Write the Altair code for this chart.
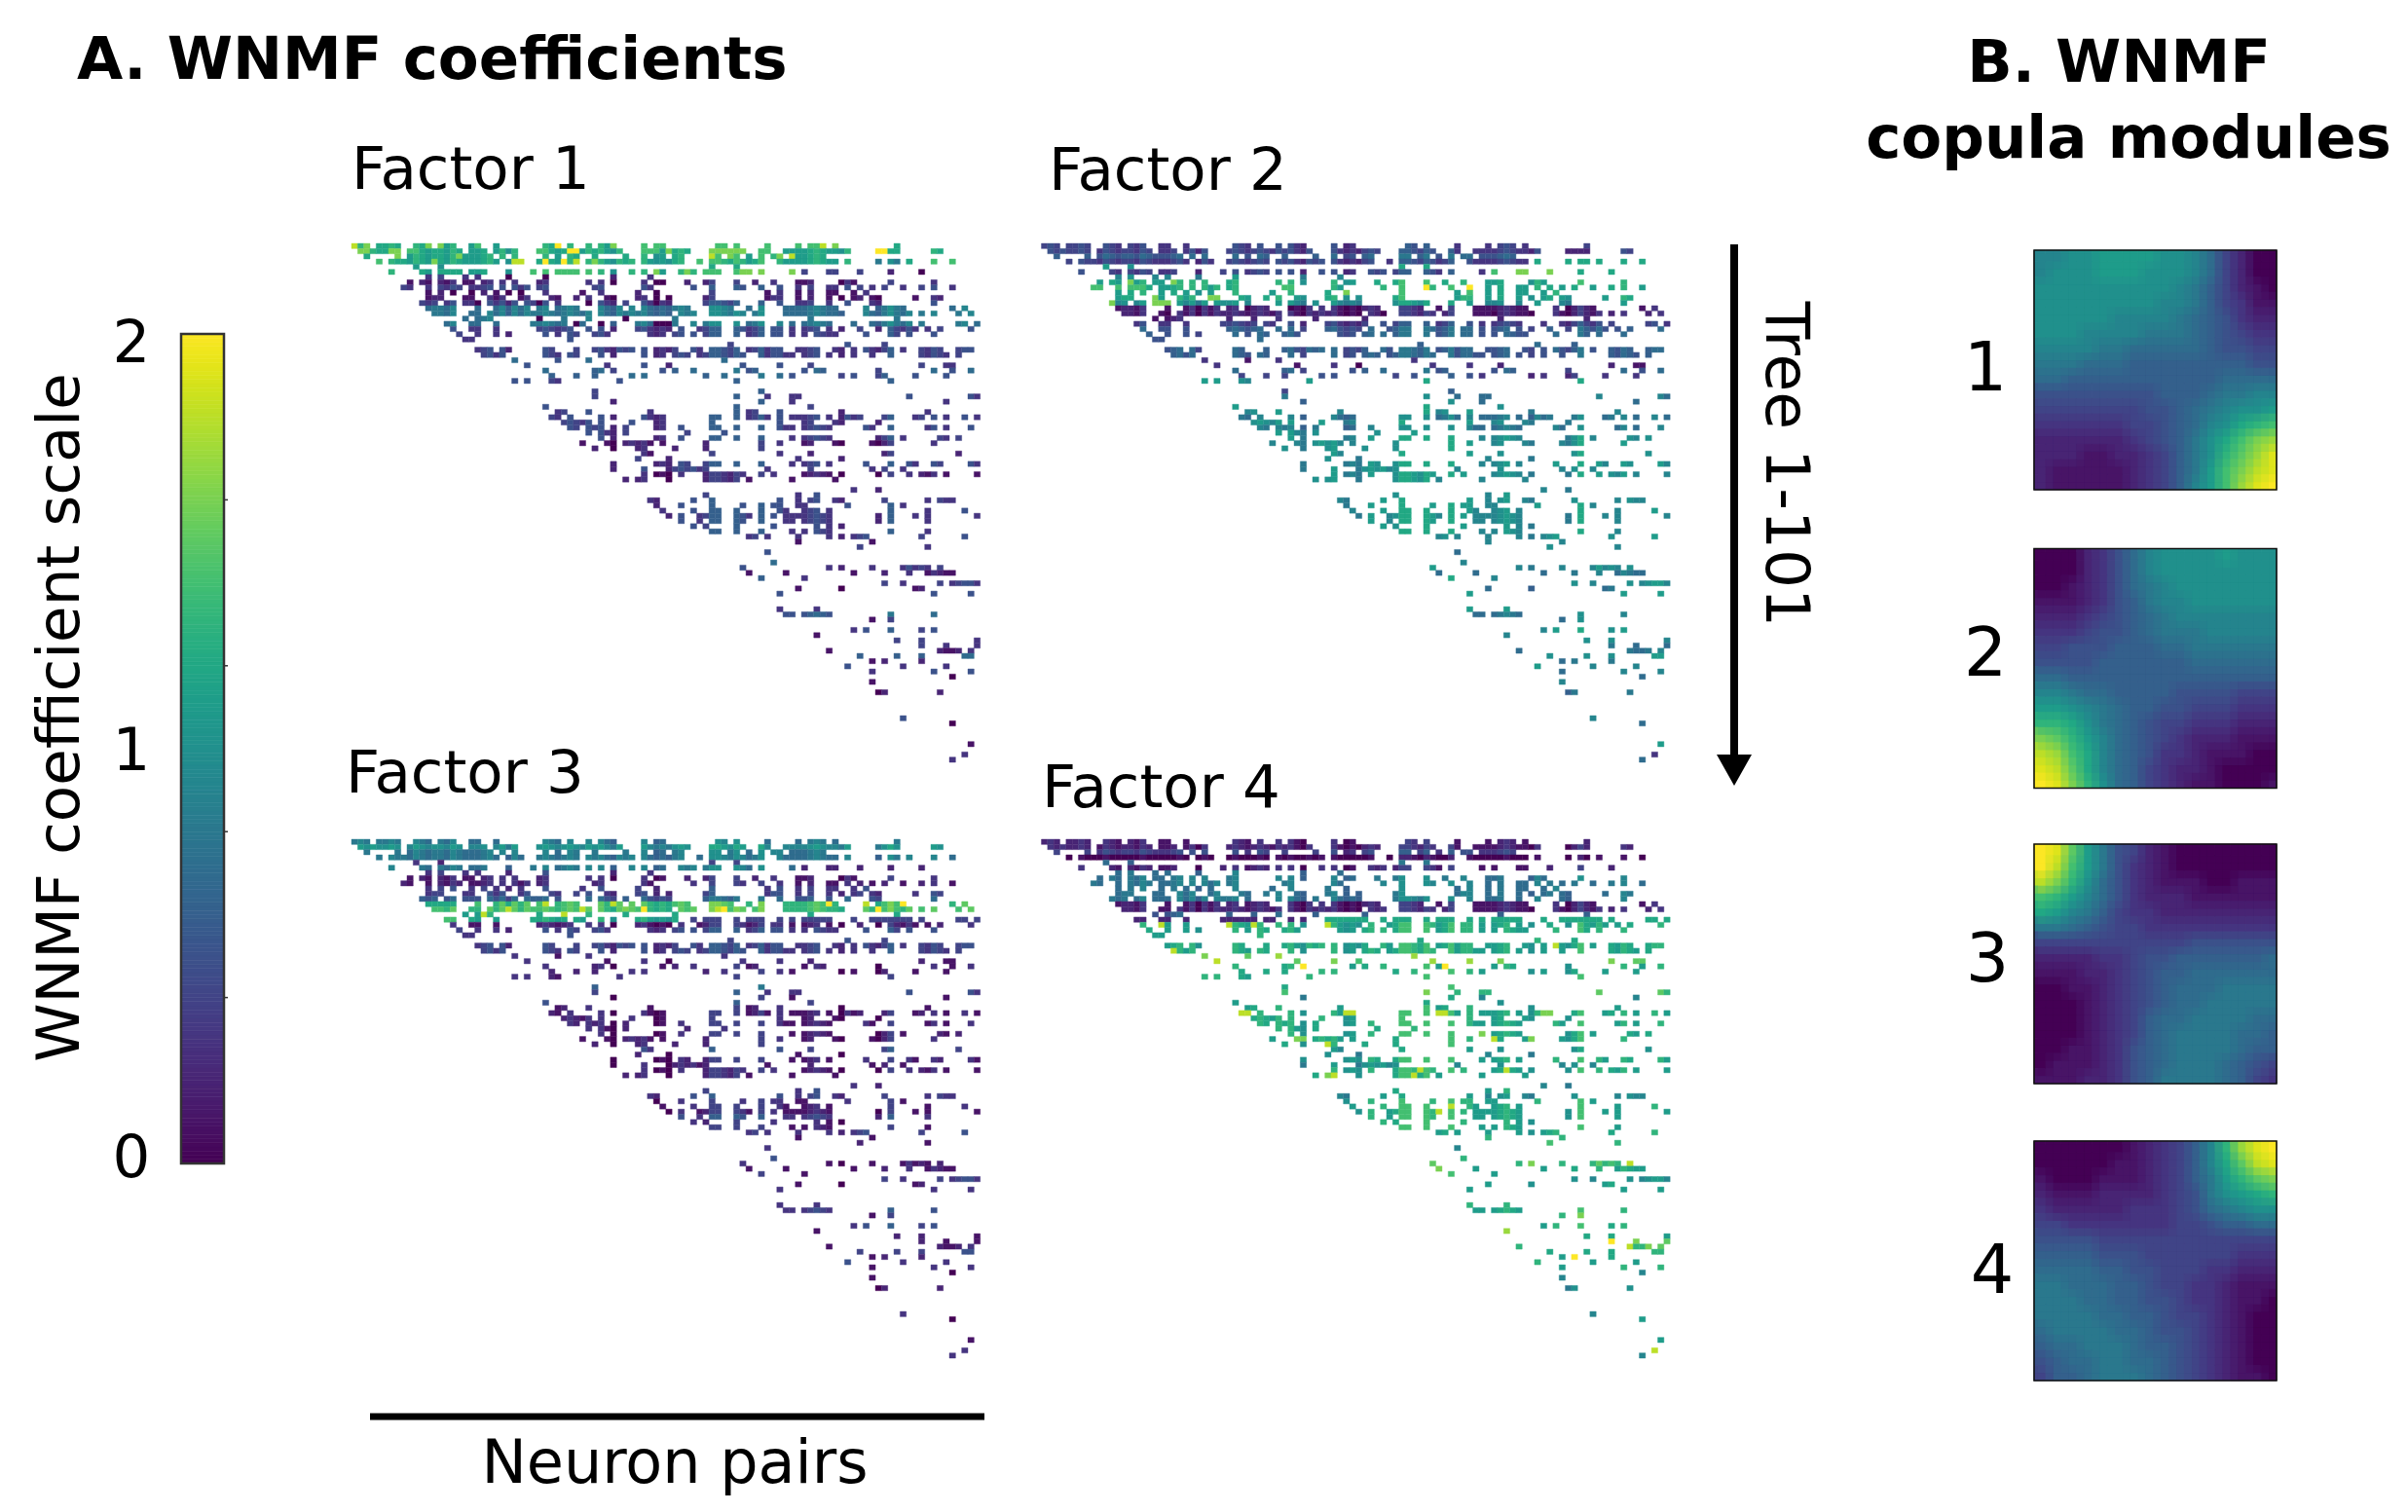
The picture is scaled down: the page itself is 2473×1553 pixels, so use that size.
import altair as alt
import pandas as pd

FONT = "DejaVu Sans"
COLS = 103
ROWS = 100

# occupied neuron-pair columns for each tree row
PATTERN = [
"0-2 4-7 10-12 14-16 19-20 23 31-33 35 38 40-42 47 49-50 59-60 62 67 72 74-76 78 88",
"1-7 9-17 19-21 23-26 30-43 47-54 58-63 66-67 70-80 85-88 94-95",
"2 7 9-22 24 26 31 33 35-36 39 44 47 49-50 52-53 58-59 61-62 64 66 68-69 71-76",
"4 6-23 25-27 30-36 38-45 47-53 56 58-66 69-78 80 85 87-88 90 94 97",
"10 14 58 62",
"6 11-12 14-17 19-21 25 29 31 33-36 38 40 42 45 47 49-50 53-55 57-59 62-64 66 71 73 77-78 82 87 92",
"12 14 18 20 25 31 42 48",
"9 11-12 14-16 18-19 21-22 24 26 30-31 38 40 42 47 49-50 54 57-58 62 65 68 72-74 79-81 87 94",
"8-9 12 14-17 19-22 24 26-28 30-31 39-40 47-48 55 58 62-63 66 69 72 74 77-78 80 82 84 86 89 92 94 97",
"12 14 16 19 21 23 25 27 31 37 40 46 49 58 67 69 72 74 77-78 81 83",
"12-14 18-19 22-24 27-28 32-33 36 38 41-42 46-47 49 51 57-58 67-69 72 74 77 79 81-82 84-85 91 94-95",
"11-13 15-16 18-20 22-26 28-31 33 38 40-42 44 47-51 57-62 66 69 72-74 77 80 84-85 94",
"12-16 20 23-28 30-31 33-36 40-43 45 47-54 58-61 64 66 70-78 83 85-89 97 99",
"13-16 19-20 22-38 40-51 53-55 58-63 65-66 70-79 83-90 92 94 98 100",
"18 20-22 30 34 38 44 52 74 88",
"15-16 19-20 23 29-34 36-37 40 42 46-52 55 57-59 62 64-66 69 71 73-77 81 84-90 92 98-99 101",
"16 19-20 23 30-35 38 40 42 46-51 53 56-59 62-66 68-69 71 73-75 77 79 82 85 87-91 93 95 100",
"17 20 23 25 31 33 35-36 39-41 48-50 52-53 55 57-59 62 64-66 68-69 71 73 75-78 83 87-88 90 94",
"18-19 35",
"61 80 86",
"20-22 24-25 31-32 36 39-45 47 49-52 55-56 58-62 64-69 72-75 78-79 81 83-87 89 92-95 98-100",
"21-24 31-33 35-36 40 42 47 49-50 52-54 56-63 66-71 73-75 77 79 81 84 87 92-96 98",
"26 33 38 60",
"28 41 47 51 63 69 74 92 96-97",
"31 39-40 42 50 52 55 62 64-65 73 75-76 85 94 97 100",
"32 36 39 45 47 57 60 66 69 71 79 81 85-86 91 96",
"26 28 32-33 43 62 87",
"",
"39 66",
"39 62 67 71-72 90 100-101",
"42 66 71 96",
"31 62 74",
"33-34 38 48 62 64-65 69 79 93",
"32-33 35 40 42 47-50 58-59 62 64-67 69 71-75 77 79-82 86-87 91-92 94 96 99 101",
"34-38 40 45 49-50 58 69 73-74 78-79 85",
"35-36 38-40 42 44 49-50 53 58-59 62 66 69-71 73-77 83-84 87 93-94 96 100",
"38 40-42 44 54 60",
"40 42 49-50 53 58-59 62 66 71 73-77 85-87 89 95-96 98",
"37 41-42 44-48 50 57 66 69 73-74 78-79 84-87 94",
"39 42 46-47 52 57 66",
"47-48 58 69 74 86-87 98",
"46 51 72 79",
"42 49-51 53-54 57-59 62 66 71 73-75 77 83 87 90-91 94-95 100-101",
"42 47 51-57 67 74 84 86 89",
"47 49-51 53 57-63 66 68 73-77 79 85 87 90 92-94 96 101",
"44 46-47 51 57-62 64 71 78",
"",
"81 85",
"57 72 75",
"48-49 55 58 69 72 74-75 78-79 86 93 95-97",
"49 53 58 63 66 68-69 72-73 80 87 89",
"50 55 58-59 62 66 69-70 73-75 77 87 93 99",
"51 53 56-59 62-64 66 68 70-77 85 87 91 93 101",
"53 56 58-59 62-63 66 70-71 73-77 85 87 93",
"55 57 62 68 75 77 79",
"58-59 62 66 71 73 75-77 87 93",
"64-65 67 72 77 79 81-83 92 99",
"72 84",
"82 93",
"67",
"",
"68",
"63 77 79 84 89-93 95",
"64 70 81 86 90 93-95 96-97",
"66 73",
"86 89 95 97-101",
"72 79 91-92",
"69 94 100",
"",
"",
"69 75",
"70-71 73-77 87 94",
"84 87",
"",
"81 83 87 92 94",
"75",
"88 92 101",
"92 96 101",
"77 95-98 100",
"82 88 92 99-100",
"84 86 92",
"80 89 96",
"84 94 100",
"97",
"84",
"",
"85-86 95",
"", "", "", "",
"89",
"97",
"", "", "",
"100",
"",
"99",
"97",
]

# typical coefficient of each tree row in each factor, one digit per row (digit x 0.2)
LEVELS = {
"Factor 1": "6666562121 1244442222 2232332222 2222222211 1222112222 2222222123 2321221222 1312202213 1220121222 2302220212",
"Factor 2": "2232525666 6511123333 3311325424 4554545555 5555555555 5555555554 5454554545 5445545445 4544554454 5544545414",
"Factor 3": "4544142112 2377661222 2211111232 1211111111 2111112222 1112112112 2211121122 1212201112 1210121222 2202220212",
"Factor 4": "1120314444 4411326666 6688666667 5566666666 5565666565 6666666775 6676656566 6676686876 6665565666 5566665695",
}

# how much each neuron-pair column sits above or below its row, in tenths
COLUMN_SHIFT = [
0,1,0,1,0,0,1,0,0,-1,
1,0,-1,0,0,-1,1,0,-1,-1,
-1,0,1,-1,1,-2,1,-1,1,0,
0,1,0,-1,0,1,0,-1,1,0,
1,-1,-2,1,0,1,0,1,-1,-2,
-1,-2,0,1,0,1,-1,0,2,2,
1,0,2,1,-1,0,2,-1,1,1,
-1,-1,-1,-1,0,1,0,-1,-1,-2,
1,-1,0,1,-1,-2,0,2,0,-1,
1,-1,0,-1,1,0,-1,-1,0,1,
1,-1,0,
]

# cells read individually: row:col[-col]=digit (a = 2.0)
SPECIAL = {
"Factor 1": "0:0=9 0:2=8 0:12=8 0:14=8 0:20=7 0:33=a 0:42=8 0:47=7 0:49-50=7 0:59-60=7 0:62=7 0:67=7 0:72=7 0:74-75=7 0:76=9 0:78=8 "
            "1:1-2=8 1:6-7=8 1:9-10=7 1:30-31=7 1:35-36=a 1:47-49=7 1:51=8 1:58-63=8 1:66-67=7 1:85-86=a 1:87-88=6 "
            "2:7=8 2:17=8 2:58=9 2:61=8 2:69=8 2:71=9 3:4=7 3:13=8 3:26-27=9 3:31=a 3:34=a 3:36=9 3:39=8 3:56=7 3:85=4 3:87=5 3:88=4 3:90=6 3:94=7 3:97=7 "
            "5:14-17=6 5:29=7 5:31=7 5:33-36=7 5:38=7 5:49=8 5:54=8 5:57-59=7 5:62=7 5:63-64=8 5:66=8 5:71=8 5:73=2 5:77-78=2 5:82=2 5:87=1 5:92=0 "
            "6:25=0 6:31=0 7:50=0 9:16=0 9:19=0 9:25=0 9:27=0 9:49=0 10:49=0 11:20=0 11:30=0 11:38=0 11:49=0 14:30=0 14:44=0 15:36=0 15:40=0 15:49-51=0",
"Factor 2": "5:73=7 5:77-78=8 5:82=8 5:87=6 5:92=6 3:79-101=6 1:85-88=1 8:62=a 8:69=a 7:14=8 7:21=8 8:8-9=7 8:12-16=7 8:39-40=7 "
            "11:11=8 11:18-20=8 10:18=8 10:27-28=8 9:49=8 9:69=7 12:33=0 12:40=0 12:49=0 13:20=0 13:55=0 13:73=0",
"Factor 3": "5:72-101=1 12:12-16=6 12:31=9 12:42=9 12:77=a 12:83=9 12:89=a 13:25=9 13:37=9 13:44=8 13:47=a 13:59=9 13:60=a 13:85=a "
            "14:21=9 14:34=9 14:52-101=6 15:53-101=2 15:15=7 15:16=7 15:19=6 12:20=7",
"Factor 4": "15:0-45=1 15:46-101=6 16:19=9 16:30=9 16:34=9 16:46=9 21:21=9 22:26=8 23:28=9 23:47=8 24:42=a 24:65=a 20:83=9 "
            "33:32-33=9 33:49-50=9 33:64-65=9 33:81-82=8 38:41-42=8 39:46=9 37:71=8 38:73=9 38:79=8 44:61=9 44:75=9 45:60=9 45:47=9 45:46=8 "
            "51:66=9 52:64=9 62:95=9 62:79=8 63:64=8 77:92=a 77:96=8 78:95=9 78:98=8 80:86=a 98:99=9",
}

# copula modules, 16 x 16, code / 10 is the colour value; first line is the top
MODULES = {
"1": ["99aabbbbaa974200","9aaabbbaaa974200","aaaaaaaaa9864210","aaaaaaaa99864311",
      "aaaaa99998765322","aaa9999888765433","9999887777765544","8887776666666655",
      "7766666666667777","5555555566678899","4444444556789aab","333333445679acde",
      "22222234568acegh","22211223468adfhj","21111123468begij","21111123469behjk"],
"2": ["00023579aaaabaaa","00023579aaaaaaaa","001235789aaaaaaa","1112356899aaaaaa",
      "2223456789999999","3334556788899999","4455566677888888","5555666666777777",
      "7766666666666666","9987766665555444","bba9876655444333","ddca876544333222",
      "gfdb976543222111","ihec976533211100","jifc976432210000","kjgda76432110001"],
"3": ["kjfb854210000000","kieb853210000000","igda753211100111","edb9753222111111",
      "cb98643322222222","8876544333333333","4444444444555555","2222334556666667",
      "1112234566777777","0011234567778888","0001234567788888","0001234677888877",
      "0001234678888776","0011235678888766","0111235678887654","1112235688887643"],
"4": ["000000123469dhjk","000001123469cfij","100011123468bdfg","211122223458abcd",
      "32222233345789aa","4433333334456677","5555444444444444","6666555444444333",
      "7777665544433222","8877766544332111","8887766554332110","8888776654432100",
      "7888877655432100","6778887665432100","5677887765432100","4667888765432110"],
}

COLORBAR_TICKS = [0, 1, 2]
COLORBAR_MINOR = [0.4, 0.8, 1.2, 1.6]
COLORBAR_STEPS = [i / 100 for i in range(200)]

CODE = "0123456789abcdefghijk"


def parse_cols(text):
    out = []
    for tok in text.split():
        a, _, b = tok.partition("-")
        out.extend(range(int(a), int(b or a) + 1))
    return out


def parse_special(text):
    out = {}
    for tok in text.split():
        pos, d = tok.split("=")
        r, cols = pos.split(":")
        for c in parse_cols(cols):
            out[(int(r), c)] = CODE.index(d) * 0.2
    return out


def factor_table(name):
    levels = LEVELS[name].replace(" ", "")
    special = parse_special(SPECIAL[name])
    rows = []
    for r, text in enumerate(PATTERN):
        for c in parse_cols(text):
            v = special.get((r, c))
            if v is None:
                v = int(levels[r]) * 0.2 + COLUMN_SHIFT[c] * 0.1
            rows.append({"c0": c, "c1": c + 1, "r0": r, "r1": r + 1, "v": max(0, min(2, v))})
    return pd.DataFrame(rows)


def module_table(name, dx=0.0, dy=0.0):
    rows = []
    for r, line in enumerate(MODULES[name]):
        for c, ch in enumerate(line):
            rows.append({"c0": c + dx, "c1": c + 1 + dx, "r0": r + dy, "r1": r + 1 + dy, "v": CODE.index(ch) / 10})
    return pd.DataFrame(rows)


color_scale = alt.Scale(scheme="viridis", domain=[0, 2])


def grid(df, xd, yd, xr, yr, sw, opacity=1.0):
    xs = alt.Scale(domain=xd, range=xr, nice=False, zero=False, clamp=True)
    ys = alt.Scale(domain=yd, range=yr, nice=False, zero=False, clamp=True)
    return alt.Chart(df).mark_rect(strokeWidth=sw, opacity=opacity).encode(
        x=alt.X("c0:Q", scale=xs, axis=None),
        x2="c1:Q",
        y=alt.Y("r0:Q", scale=ys, axis=None),
        y2="r1:Q",
        color=alt.Color("v:Q", scale=color_scale, legend=None),
        stroke=alt.Stroke("v:Q", scale=color_scale, legend=None),
    )


def txt(s, x, y, size=61, bold=False, angle=0, align="left"):
    return alt.Chart(alt.Data(values=[{}])).mark_text(
        text=s, font=FONT, fontSize=size, fontWeight="bold" if bold else "normal",
        angle=angle, align=align, baseline="middle", color="black",
    ).encode(x=alt.value(x - 8), y=alt.value(y - 8))


layers = []

# factor panels
FX = {"Factor 1": 361, "Factor 2": 1069.5, "Factor 3": 361, "Factor 4": 1069.5}
FY = {"Factor 1": 250, "Factor 2": 250, "Factor 3": 862, "Factor 4": 862}
for name in LEVELS:
    x0, y0 = FX[name] - 8, FY[name] - 8
    layers.append(grid(factor_table(name), [0, COLS], [0, ROWS], [x0, x0 + 652], [y0, y0 + 533], 0.4))

# copula modules: the grid is laid over itself half a cell apart so that its steps soften
MY = {"1": 257, "2": 563.5, "3": 867, "4": 1172}
WINDOW = [0.25, 16]
for name in MODULES:
    y0 = MY[name] - 8
    box = ([2081, 2330], [y0, y0 + 246])
    layers.append(grid(module_table(name), WINDOW, WINDOW, box[0], box[1], 0.8))
    layers.append(grid(module_table(name, 0.5, 0), WINDOW, WINDOW, box[0], box[1], 0, 1 / 2))
    layers.append(grid(module_table(name, 0, 0.5), WINDOW, WINDOW, box[0], box[1], 0, 1 / 3))
    layers.append(grid(module_table(name, 0.5, 0.5), WINDOW, WINDOW, box[0], box[1], 0, 1 / 4))
    layers.append(
        alt.Chart(alt.Data(values=[{}])).mark_rect(fillOpacity=0, stroke="#111111", strokeWidth=1.6).encode(
            x=alt.value(2081), x2=alt.value(2330), y=alt.value(y0), y2=alt.value(y0 + 246)
        )
    )

# colour bar
cb = pd.DataFrame({"lo": COLORBAR_STEPS, "hi": [s + 0.01 for s in COLORBAR_STEPS]})
cb_y = alt.Scale(domain=[0, 2], range=[1187, 335], nice=False, zero=False)
layers.append(
    alt.Chart(cb).mark_rect(strokeWidth=0.6).encode(
        x=alt.value(178), x2=alt.value(222),
        y=alt.Y("lo:Q", scale=cb_y, axis=None), y2="hi:Q",
        color=alt.Color("lo:Q", scale=color_scale, legend=None),
        stroke=alt.Stroke("lo:Q", scale=color_scale, legend=None),
    )
)
layers.append(
    alt.Chart(alt.Data(values=[{}])).mark_rect(fillOpacity=0, stroke="#333333", strokeWidth=2.5).encode(
        x=alt.value(178), x2=alt.value(222), y=alt.value(335), y2=alt.value(1187)
    )
)
layers.append(
    alt.Chart(pd.DataFrame({"t": COLORBAR_MINOR})).mark_rule(color="#333333", strokeWidth=1.5).encode(
        x=alt.value(222), x2=alt.value(226),
        y=alt.Y("t:Q", scale=cb_y, axis=None),
    )
)
layers.append(
    alt.Chart(pd.DataFrame({"t": COLORBAR_TICKS})).mark_text(
        font=FONT, fontSize=61, align="center", baseline="middle", color="black"
    ).encode(
        x=alt.value(127),
        y=alt.Y("t:Q", scale=alt.Scale(domain=[0, 2], range=[1183, 346], nice=False, zero=False), axis=None),
        text="t:Q",
    )
)

# annotations
layers += [
    txt("A. WNMF coefficients", 79, 63, bold=True),
    txt("B. WNMF", 2176, 66, bold=True, align="center"),
    txt("copula modules", 2186, 144, bold=True, align="center"),
    txt("Factor 1", 361, 176),
    txt("Factor 2", 1077, 177),
    txt("Factor 3", 355, 796),
    txt("Factor 4", 1070, 811),
    txt("WNMF coefficient scale", 63, 737, angle=270, align="center"),
    txt("Tree 1-101", 1833, 477, size=63, angle=90, align="center"),
    txt("Neuron pairs", 693, 1504, size=62, align="center"),
    txt("1", 2039, 380, size=70, align="center"),
    txt("2", 2039, 673, size=70, align="center"),
    txt("3", 2041, 987, size=70, align="center"),
    txt("4", 2046, 1307, size=70, align="center"),
]

# neuron-pairs bar and tree arrow
layers.append(
    alt.Chart(alt.Data(values=[{}])).mark_rule(color="black", strokeWidth=7).encode(
        x=alt.value(372), x2=alt.value(1003), y=alt.value(1447)
    )
)
layers.append(
    alt.Chart(alt.Data(values=[{}])).mark_rule(color="black", strokeWidth=8).encode(
        x=alt.value(1773), y=alt.value(243), y2=alt.value(772)
    )
)
layers.append(
    alt.Chart(alt.Data(values=[{}])).mark_point(
        shape="M-1,-0.89L1,-0.89L0,0.89Z", size=1296, filled=True, color="black", opacity=1
    ).encode(x=alt.value(1773), y=alt.value(783))
)

chart = (
    alt.layer(*layers)
    .resolve_scale(x="independent", y="independent")
    .properties(width=2457, height=1537, padding=0, background="white")
    .configure_view(stroke=None)
)

chart.save("out.html", embed_options={"renderer": "svg", "actions": False})
